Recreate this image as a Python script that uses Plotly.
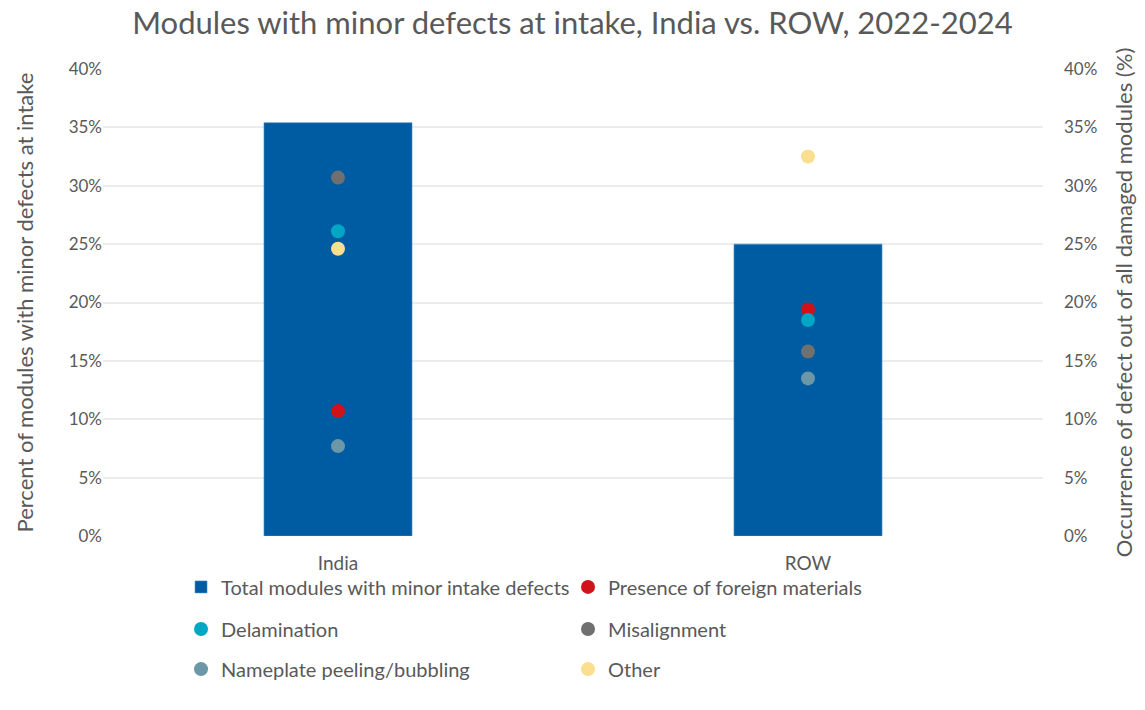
import plotly.graph_objects as go

regions = ["India", "ROW"]
total_minor = [35.4, 25.0]

defect_names = [
    "Presence of foreign materials",
    "Delamination",
    "Misalignment",
    "Nameplate peeling/bubbling",
    "Other",
]
foreign_materials = [10.7, 19.4]
delamination = [26.1, 18.5]
misalignment = [30.7, 15.8]
nameplate = [7.7, 13.5]
other = [24.6, 32.5]

defect_values = [foreign_materials, delamination, misalignment, nameplate, other]
defect_colors = ["#d0121b", "#00a7c4", "#707070", "#6b97a6", "#f9df8f"]
# legend row that each defect series sits in (two entries per row)
defect_legends = ["legend", "legend2", "legend2", "legend3", "legend3"]

text_color = "#595959"
font_family = "Lato, 'Open Sans', sans-serif"

fig = go.Figure()

fig.add_trace(go.Bar(
    x=regions,
    y=total_minor,
    name="Total modules with minor intake defects",
    marker=dict(color="#005ca2", line=dict(color="#4f8fc4", width=0.6)),
    width=0.315,
    legend="legend",
))

for name, vals, col, lg in zip(defect_names, defect_values, defect_colors, defect_legends):
    fig.add_trace(go.Scatter(
        x=regions,
        y=vals,
        name=name,
        mode="markers",
        marker=dict(color=col, size=14),
        yaxis="y2",
        legend=lg,
    ))

tick_vals = [0, 5, 10, 15, 20, 25, 30, 35, 40]
tick_text = [f"{v}%" for v in tick_vals]


def legend_row(y):
    return dict(
        orientation="h",
        x=0.083, xanchor="left",
        y=y, yanchor="middle",
        entrywidth=342, entrywidthmode="pixels",
        font=dict(size=20, color=text_color, family=font_family),
        itemwidth=30,
        traceorder="normal",
        bgcolor="rgba(0,0,0,0)",
    )


fig.update_layout(
    width=1145,
    height=710,
    margin=dict(l=103, r=100, t=69, b=174),
    paper_bgcolor="white",
    plot_bgcolor="white",
    font=dict(family=font_family, color=text_color, size=17),
    title=dict(
        text="Modules with minor defects at intake, India vs. ROW, 2022-2024",
        x=0.5, xanchor="center", y=0.968, yanchor="middle",
        font=dict(size=31, color=text_color, family=font_family),
    ),
    xaxis=dict(
        showgrid=False, showline=False, ticks="",
        tickfont=dict(size=19, color=text_color),
        ticklabelstandoff=14,
    ),
    yaxis=dict(
        range=[0, 40], tickvals=tick_vals, ticktext=tick_text,
        showgrid=True, gridcolor="#ececec", gridwidth=1.5,
        zeroline=False, showline=False, ticks="",
        tickfont=dict(size=17, color=text_color),
        title=dict(text="Percent of modules with minor defects at intake",
                   font=dict(size=22, color=text_color), standoff=28),
    ),
    yaxis2=dict(
        range=[0, 40], tickvals=tick_vals, ticktext=tick_text,
        overlaying="y", side="right", showgrid=False,
        zeroline=False, showline=False, ticks="",
        tickfont=dict(size=17, color=text_color),
        ticklabelstandoff=20,
        title=dict(text="Occurrence of defect out of all damaged modules (%)",
                   font=dict(size=22, color=text_color), standoff=20),
    ),
    legend=legend_row(-0.109),
    legend2=legend_row(-0.199),
    legend3=legend_row(-0.285),
    showlegend=True,
)

fig.write_html("out.html")
